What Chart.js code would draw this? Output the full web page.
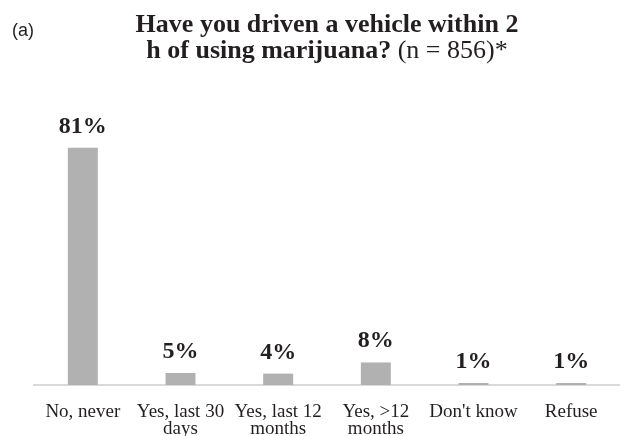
<!DOCTYPE html>
<html>
<head>
<meta charset="utf-8">
<script src="https://cdn.jsdelivr.net/npm/chart.js@4"></script>
<style>
  html, body { margin: 0; padding: 0; background: #ffffff; }
  #wrap { position: relative; width: 620px; height: 436px; }
</style>
</head>
<body>
<div id="wrap"><canvas id="chart" width="620" height="436"></canvas></div>
<script>
// data
const categories = [
    ["No, never"],
    ["Yes, last 30", "days"],
    ["Yes, last 12", "months"],
    ["Yes, >12", "months"],
    ["Don't know"],
    ["Refuse"],
];
const shares = [81, 4.1, 3.9, 7.7, 0.7, 0.7];
const shareLabels = ["81%", "5%", "4%", "8%", "1%", "1%"];
const panelTag = "(a)";
const titleLine1 = "Have you driven a vehicle within 2";
const titleLine2Bold = "h of using marijuana?";
const titleLine2Plain = " (n = 856)*";

const SERIF = "'Liberation Serif', 'Times New Roman', serif";
const SANS = "'Liberation Sans', Arial, sans-serif";
const INK = "#231f20";

// title + panel tag, centred over the plot area like the original figure
const titlePlugin = {
    id: "figTitle",
    afterDraw(chart) {
        const ctx = chart.ctx;
        const area = chart.chartArea;
        const cx = (area.left + area.right) / 2;
        ctx.save();
        ctx.fillStyle = INK;
        ctx.textBaseline = "alphabetic";

        ctx.font = "18px " + SANS;
        ctx.textAlign = "left";
        ctx.fillText(panelTag, 12, 36);

        ctx.font = "bold 26px " + SERIF;
        ctx.textAlign = "center";
        ctx.fillText(titleLine1, cx, 32);

        ctx.font = "bold 26px " + SERIF;
        const wBold = ctx.measureText(titleLine2Bold).width;
        ctx.font = "26px " + SERIF;
        const wPlain = ctx.measureText(titleLine2Plain).width;
        let x = cx - (wBold + wPlain) / 2;
        ctx.textAlign = "left";
        ctx.font = "bold 26px " + SERIF;
        ctx.fillText(titleLine2Bold, x, 58);
        ctx.font = "26px " + SERIF;
        ctx.fillText(titleLine2Plain, x + wBold, 58);
        ctx.restore();
    },
};

// percent labels over each bar
const valueLabelPlugin = {
    id: "valueLabels",
    afterDatasetsDraw(chart) {
        const ctx = chart.ctx;
        const meta = chart.getDatasetMeta(0);
        ctx.save();
        ctx.fillStyle = INK;
        ctx.font = "bold 24px " + SERIF;
        ctx.textAlign = "center";
        ctx.textBaseline = "alphabetic";
        meta.data.forEach((bar, i) => {
            ctx.fillText(shareLabels[i], bar.x, bar.y - 15);
        });
        ctx.restore();
    },
};

new Chart(document.getElementById("chart").getContext("2d"), {
    type: "bar",
    data: {
        labels: categories,
        datasets: [{
            data: shares,
            backgroundColor: "#b1b1b1",
            borderWidth: 0,
            barPercentage: 1.0,
            categoryPercentage: 0.307,
        }],
    },
    options: {
        responsive: false,
        animation: false,
        devicePixelRatio: 1,
        layout: { padding: { top: 92, left: 34, right: 0, bottom: -20 } },
        plugins: {
            legend: { display: false },
            title: { display: false },
            tooltip: { enabled: false },
        },
        scales: {
            x: {
                grid: { display: false, drawTicks: false },
                border: { display: true, color: "#d9d9d9", width: 2 },
                ticks: {
                    color: INK,
                    padding: 18,
                    maxRotation: 0,
                    autoSkip: false,
                    font: { family: SERIF, size: 19, lineHeight: 0.92 },
                },
            },
            y: {
                display: false,
                min: 0,
                max: 100,
            },
        },
    },
    plugins: [titlePlugin, valueLabelPlugin],
});
</script>
</body>
</html>
